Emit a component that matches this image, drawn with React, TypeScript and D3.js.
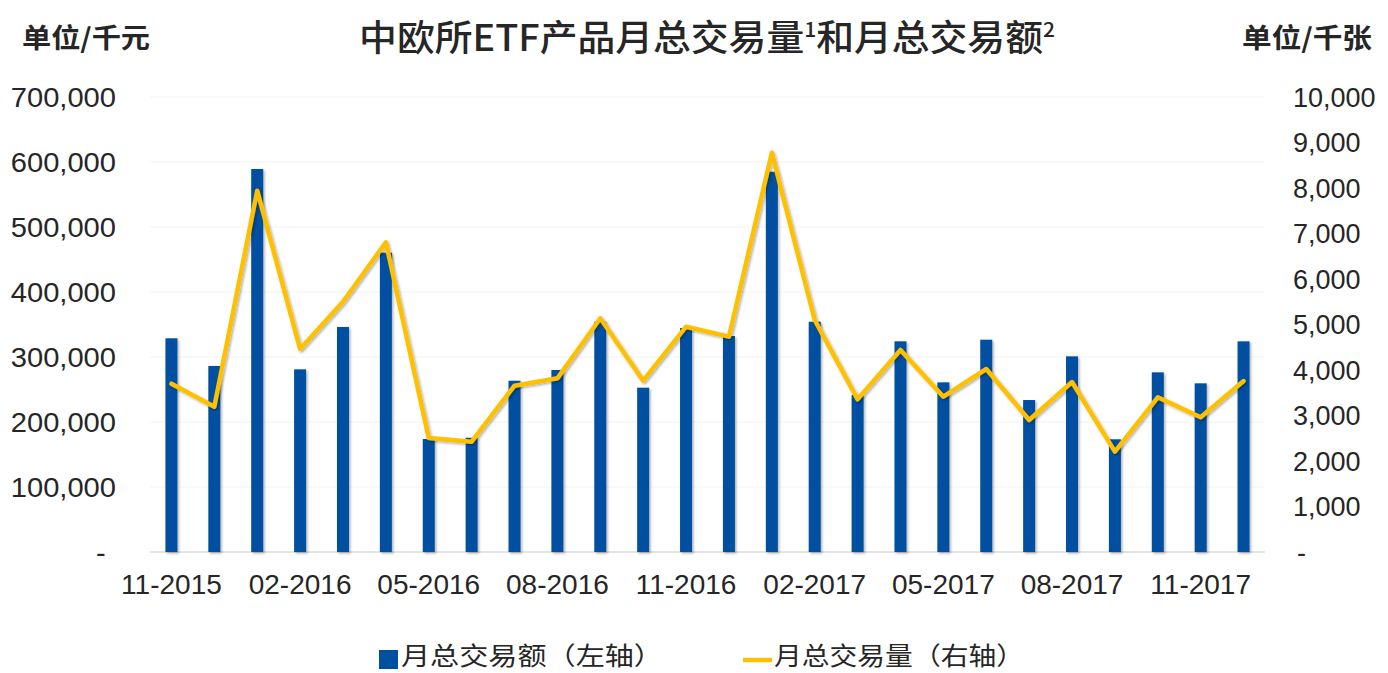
import React from "react";
import * as d3 from "d3";

const months = [
  "11-2015", "12-2015", "01-2016", "02-2016", "03-2016", "04-2016", "05-2016",
  "06-2016", "07-2016", "08-2016", "09-2016", "10-2016", "11-2016", "12-2016",
  "01-2017", "02-2017", "03-2017", "04-2017", "05-2017", "06-2017", "07-2017",
  "08-2017", "09-2017", "10-2017", "11-2017", "12-2017",
];
// 月总交易额 (千元, 左轴)
const amounts = [
  328800, 286200, 589200, 281000, 346200, 460500, 173800, 175800, 263500,
  280000, 354300, 252800, 344600, 332300, 585000, 354300, 241500, 324100,
  261000, 326600, 233800, 301000, 173400, 276400, 259500, 324100,
];
// 月总交易量 (千张, 右轴)
const volumes = [
  3699, 3194, 7941, 4462, 5501, 6806, 2505, 2424, 3655, 3817, 5136, 3765,
  4952, 4733, 8776, 5099, 3355, 4440, 3414, 4022, 2901, 3736, 2205, 3400,
  2960, 3758,
];
const tickMonths = ["11-2015", "02-2016", "05-2016", "08-2016", "11-2016", "02-2017", "05-2017", "08-2017", "11-2017"];
const leftTicks = [0, 100000, 200000, 300000, 400000, 500000, 600000, 700000];
const rightTicks = [0, 1000, 2000, 3000, 4000, 5000, 6000, 7000, 8000, 9000, 10000];

const W = 1388;
const H = 673;
const plotLeft = 150;
const plotRight = 1265;
const plotTop = 97;
const plotBottom = 552;

const BAR = "#0050A0";
const LINE = "#FFC000";
const TEXT = "#262626";
const NUM_FONT = "'Liberation Sans', Arial, sans-serif";
const CJK_FONT = "'Noto Sans CJK SC', 'Noto Sans', sans-serif";

export default function App() {
  const x = d3
    .scaleBand<string>()
    .domain(months)
    .range([plotLeft, plotRight])
    .paddingInner(0.72)
    .paddingOuter(0.36);
  const yL = d3.scaleLinear().domain([0, 700000]).range([plotBottom, plotTop]);
  const yR = d3.scaleLinear().domain([0, 10000]).range([plotBottom, plotTop]);
  const fmt = d3.format(",");
  const cx = (m: string) => (x(m) as number) + x.bandwidth() / 2;

  const line = d3
    .line<number>()
    .x((_, i) => cx(months[i]))
    .y((d) => yR(d));

  return (
    <svg
      width={W}
      height={H}
      style={{ position: "absolute", left: 0, top: 0, background: "#fff" }}
    >
      <defs>
        <filter id="sh" x="-20%" y="-20%" width="140%" height="140%">
          <feDropShadow dx="1.5" dy="1.5" stdDeviation="1" floodColor="#000" floodOpacity="0.3" />
        </filter>
      </defs>
      <rect x={0} y={0} width={W} height={H} fill="#fff" />

      {/* title & units */}
      <text x={22} y={48} fontFamily={CJK_FONT} fontWeight={700} fontSize={27} fill={TEXT}
        textLength={128} lengthAdjust="spacingAndGlyphs">
        单位/千元
      </text>
      <text x={1242} y={48} fontFamily={CJK_FONT} fontWeight={700} fontSize={27} fill={TEXT}
        textLength={130} lengthAdjust="spacingAndGlyphs">
        单位/千张
      </text>
      <g transform="translate(707,51) scale(1.05,1)">
        <text x={0} y={0} textAnchor="middle" fontFamily={CJK_FONT} fontWeight={500} fontSize={36} fill={TEXT}>
          中欧所ETF产品月总交易量
          <tspan fontSize={20} dy={-14}>1</tspan>
          <tspan dy={14}>和月总交易额</tspan>
          <tspan fontSize={20} dy={-14}>2</tspan>
        </text>
      </g>

      {/* gridlines */}
      {leftTicks.map((t) => (
        <line
          key={"g" + t}
          x1={plotLeft}
          x2={plotRight}
          y1={yL(t)}
          y2={yL(t)}
          stroke={t === 0 ? "#e4e4e4" : "#f3f3f3"}
          strokeWidth={t === 0 ? 2 : 1}
        />
      ))}

      {/* left axis labels */}
      {leftTicks.map((t) => (
        <text
          key={"l" + t}
          x={t === 0 ? 97 : 116}
          y={yL(t)}
          dy="0.36em"
          textAnchor={t === 0 ? "middle" : "end"}
          fontFamily={NUM_FONT}
          fontSize={28}
          fill={TEXT}
          transform={`translate(${t === 0 ? 0 : 116},0) scale(1.04,1) translate(${t === 0 ? 0 : -116},0)`}
        >
          {t === 0 ? "-" : fmt(t)}
        </text>
      ))}

      {/* right axis labels */}
      {rightTicks.map((t) => (
        <text
          key={"r" + t}
          x={t === 0 ? 1297 : 1293}
          y={yR(t)}
          dy="0.36em"
          textAnchor="start"
          fontFamily={NUM_FONT}
          fontSize={27}
          fill={TEXT}
        >
          {t === 0 ? "-" : fmt(t)}
        </text>
      ))}

      {/* x labels */}
      {tickMonths.map((m) => (
        <text
          key={"x" + m}
          x={cx(m)}
          y={594}
          textAnchor="middle"
          fontFamily={NUM_FONT}
          fontSize={28}
          fill={TEXT}
        >
          {m}
        </text>
      ))}

      {/* bars */}
      <g filter="url(#sh)">
        {months.map((m, i) => (
          <rect
            key={"b" + m}
            x={x(m)}
            y={yL(amounts[i])}
            width={x.bandwidth()}
            height={plotBottom - yL(amounts[i])}
            fill={BAR}
          />
        ))}
      </g>

      {/* line */}
      <path
        d={line(volumes) || ""}
        fill="none"
        stroke={LINE}
        strokeWidth={4.5}
        strokeLinejoin="round"
        strokeLinecap="round"
        filter="url(#sh)"
      />

      {/* legend */}
      <rect x={379} y={650} width={19} height={19} fill={BAR} />
      <text x={401} y={665} fontFamily={CJK_FONT} fontSize={25} fill={TEXT}
        textLength={262} lengthAdjust="spacingAndGlyphs">
        月总交易额（左轴）
      </text>
      <line x1={743} x2={772} y1={660} y2={660} stroke={LINE} strokeWidth={4.5} />
      <text x={774} y={665} fontFamily={CJK_FONT} fontSize={25} fill={TEXT}
        textLength={250} lengthAdjust="spacingAndGlyphs">
        月总交易量（右轴）
      </text>
    </svg>
  );
}
